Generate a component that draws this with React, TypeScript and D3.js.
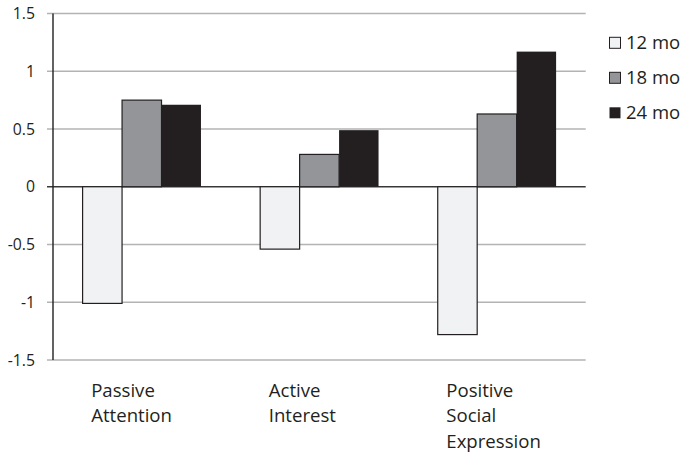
import React from 'react';
import * as d3 from 'd3';

// Chart data
const categories = [['Passive', 'Attention'], ['Active', 'Interest'], ['Positive', 'Social', 'Expression']];
const seriesNames = ['12 mo', '18 mo', '24 mo'];
const values12 = [-1.01, -0.54, -1.28];
const values18 = [0.75, 0.28, 0.63];
const values24 = [0.71, 0.49, 1.17];
const yTicks = [1.5, 1, 0.5, 0, -0.5, -1, -1.5];

const W = 684;
const H = 458;
const DARK = '#231f20';
const fills = ['#f1f2f3', '#939598', '#231f20'];
const FONT = "'Open Sans', sans-serif";

export default function App() {
  const series = [values12, values18, values24];
  const left = 53;
  const right = 585.7;

  const x = d3.scaleBand<number>().domain(d3.range(categories.length)).range([left, right]).paddingInner(0).paddingOuter(0);
  // gap between groups = 1.5 bar widths
  const inner = d3.scaleBand<number>().domain(d3.range(seriesNames.length)).range([0, x.bandwidth()]).paddingInner(0).paddingOuter(0.75);
  const y = d3.scaleLinear().domain([-1.5, 1.5]).range([360, 13.5]);
  const fmt = (v: number) => (v === 0 ? '0' : String(v));
  const labelX = (ci: number) => (x(ci) as number) + x.bandwidth() * 0.215;

  return (
    <svg width={W} height={H} style={{ position: 'absolute', left: 0, top: 0, background: '#fff' }} fontFamily={FONT}>
      {/* gridlines and ticks */}
      {yTicks.map((t) => (
        <g key={t}>
          <line x1={left - 6} x2={right} y1={y(t)} y2={y(t)} stroke={t === 0 ? '#3a3738' : '#b3b3b3'} strokeWidth={1.4} />
          <text x={35} y={y(t)} dy="0.35em" textAnchor="end" fontSize={15.8} fill={DARK}>
            {fmt(t)}
          </text>
        </g>
      ))}

      {/* bars */}
      {categories.map((_, ci) => (
        <g key={ci} transform={`translate(${x(ci)},0)`}>
          {series.map((vals, si) => {
            const v = vals[ci];
            const y0 = y(Math.max(0, v));
            const y1 = y(Math.min(0, v));
            return (
              <rect
                key={si}
                x={inner(si)}
                y={y0}
                width={inner.bandwidth()}
                height={y1 - y0}
                fill={fills[si]}
                stroke={DARK}
                strokeWidth={si === 2 ? 0 : 1.2}
              />
            );
          })}
        </g>
      ))}

      {/* axis line */}
      <line x1={left} x2={left} y1={y(1.5)} y2={y(-1.5)} stroke={DARK} strokeWidth={1.4} />

      {/* category labels */}
      {categories.map((lines, ci) => (
        <text key={ci} x={labelX(ci)} y={396.5} fontSize={18.6} fill={DARK}>
          {lines.map((ln, li) => (
            <tspan key={li} x={labelX(ci)} dy={li === 0 ? 0 : 25.8}>
              {ln}
            </tspan>
          ))}
        </text>
      ))}

      {/* legend */}
      {seriesNames.map((name, si) => {
        const cy = 42.8 + si * 35;
        return (
          <g key={name}>
            <rect x={609.5} y={cy - 5.5} width={11} height={11} fill={fills[si]} stroke={DARK} strokeWidth={si === 2 ? 0 : 1} />
            <text x={626} y={cy} dy="0.36em" fontSize={18.5} fill={DARK}>
              {name}
            </text>
          </g>
        );
      })}
    </svg>
  );
}
